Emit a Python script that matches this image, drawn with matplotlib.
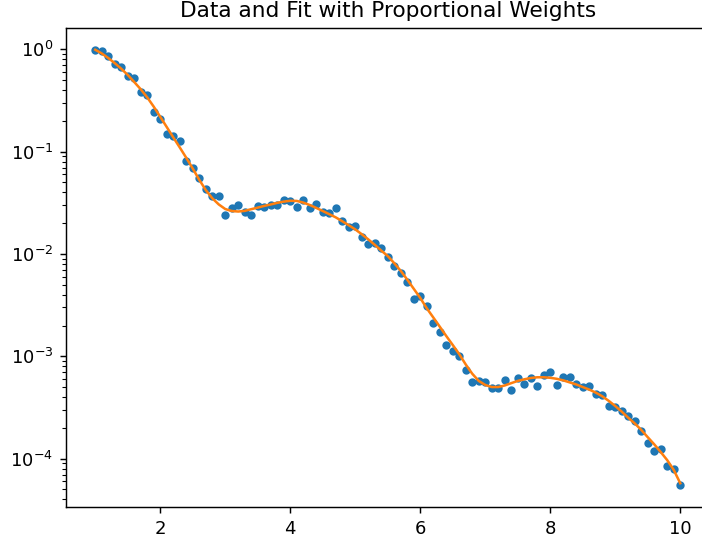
import numpy as np
import matplotlib
matplotlib.use("Agg")
import matplotlib.pyplot as plt

# x grid of the measurements
x = np.round(np.arange(1.0, 10.01, 0.1), 1)

y_data = [0.98, 0.96, 0.86, 0.72, 0.67, 0.55, 0.52, 0.385, 0.355, 0.246,
          0.207, 0.150, 0.142, 0.127, 0.081, 0.070, 0.0556, 0.0428, 0.0367, 0.0367,
          0.0238, 0.0283, 0.0300, 0.0260, 0.0243, 0.0294, 0.0289, 0.0300, 0.0298, 0.0340,
          0.0330, 0.0285, 0.0340, 0.0283, 0.0305, 0.0259, 0.0253, 0.0283, 0.0210, 0.0183,
          0.0187, 0.0146, 0.0124, 0.0129, 0.0115, 0.0093, 0.0076, 0.00655, 0.0053, 0.00364,
          0.0039, 0.0031, 0.0021, 0.00172, 0.0013, 0.00114, 0.0010, 0.00073, 0.000557, 0.00058,
          0.000557, 0.00049, 0.00049, 0.000583, 0.000467, 0.00061, 0.000537, 0.00061, 0.000512, 0.00065,
          0.0007, 0.000525, 0.00063, 0.00063, 0.000542, 0.0005, 0.000518, 0.00043, 0.000417, 0.00033,
          0.00032, 0.000295, 0.000263, 0.000232, 0.000185, 0.000142, 0.00012, 0.000123, 8.5e-5, 7.9e-5,
          5.5e-5]

# fitted curve at the same x
y_fit = [0.99, 0.912, 0.822, 0.733, 0.646, 0.562, 0.479, 0.407, 0.339, 0.275,
         0.219, 0.174, 0.138, 0.110, 0.0871, 0.0684, 0.0531, 0.0422, 0.0351, 0.0305,
         0.0275, 0.0263, 0.0260, 0.0264, 0.0274, 0.0284, 0.0295, 0.0305, 0.0316, 0.0325,
         0.0331, 0.0330, 0.0318, 0.0301, 0.0282, 0.0263, 0.0245, 0.0228, 0.0209, 0.0191,
         0.0174, 0.0156, 0.0139, 0.0123, 0.0108, 0.00955, 0.00813, 0.00684, 0.00562, 0.00457,
         0.00372, 0.00295, 0.00240, 0.00195, 0.00158, 0.00129, 0.00105, 0.000832, 0.000676, 0.000575,
         0.000525, 0.000501, 0.000501, 0.000519, 0.000547, 0.000575, 0.000596, 0.000614, 0.000624, 0.000624,
         0.000617, 0.000603, 0.000582, 0.000556, 0.000531, 0.000501, 0.000473, 0.000442, 0.000407, 0.000367,
         0.000327, 0.000288, 0.000251, 0.000221, 0.000191, 0.000162, 0.000138, 0.000116, 9.66e-5, 7.76e-5,
         5.75e-5]

dpi = 130
fig = plt.figure(figsize=(702/dpi, 545/dpi), dpi=dpi)
ax = fig.add_axes([66/702, 38/545, (709.5-66)/702, (507-28)/545])

ax.scatter(x, y_data, s=13, color='C0', zorder=2)
ax.plot(x, y_fit, color='C1', lw=1.4, zorder=3)
ax.set_yscale('log')
ax.set_title('Data and Fit with Proportional Weights')

fig.savefig('out.png', dpi=dpi)
